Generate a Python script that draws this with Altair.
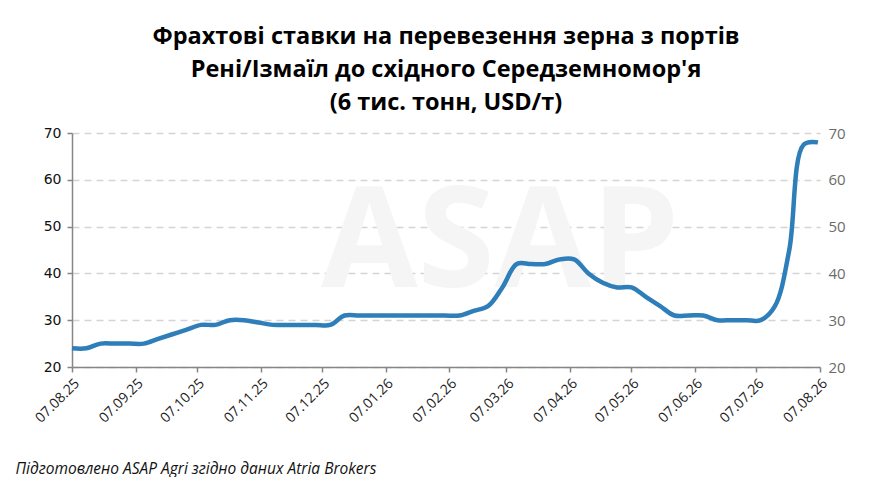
import altair as alt
import pandas as pd

# weekly observations, USD/t
start_date = "2025-08-07"
n_weeks = 53
rates = [24, 24, 25, 25, 25, 25, 26, 27, 28, 29,
         29, 30, 30, 29.5, 29, 29, 29, 29, 29, 31,
         31, 31, 31, 31, 31, 31, 31, 31, 32, 33,
         37, 42, 42, 42, 43, 43, 40, 38, 37, 37,
         35, 33, 31, 31, 31, 30, 30, 30, 30, 33,
         45, 67.5, 68]
tick_dates = ["2025-08-07", "2025-09-07", "2025-10-07", "2025-11-07", "2025-12-07",
              "2026-01-07", "2026-02-07", "2026-03-07", "2026-04-07", "2026-05-07",
              "2026-06-07", "2026-07-07", "2026-08-07"]
title_lines = ["Фрахтові ставки на перевезення зерна з портів",
               "Рені/Ізмаїл до східного Середземномор'я",
               "(6 тис. тонн, USD/т)"]
footer = "Підготовлено ASAP Agri згідно даних Atria Brokers"

dates = pd.date_range(start_date, periods=n_weeks, freq="7D").strftime("%Y-%m-%d")
df = pd.DataFrame({"date": dates, "rate": rates})


def ms(d):
    return int(pd.Timestamp(d, tz="UTC").value // 10**6)


tick_ms = [ms(d) for d in tick_dates]

x_enc = alt.X(
    "date:T",
    scale=alt.Scale(type="utc", domain=[tick_ms[0], tick_ms[-1]]),
    axis=alt.Axis(
        values=tick_ms, labelExpr="utcFormat(datum.value, '%d.%m.%y')",
        labelAngle=-45,
        labelFont="Open Sans", labelFontSize=14, labelColor="#222222",
        labelPadding=4, domainColor="#868686", domainWidth=1.5,
        tickColor="#868686", tickWidth=1.5, tickSize=5, grid=False,
        title=footer, titleFont="Open Sans", titleFontSize=15.5,
        titleFontStyle="italic", titleFontWeight="normal", titleColor="#111111",
        titleAlign="left", titleBaseline="alphabetic", titleX=-57, titleY=106,
        labelOverlap=False,
    ),
)

y_scale = alt.Scale(domain=[20, 70])

line = alt.Chart(df).mark_line(
    interpolate="catmull-rom", color="#2E7EBA", strokeWidth=4.5
).encode(
    x=x_enc,
    y=alt.Y("rate:Q", scale=y_scale, axis=alt.Axis(
        values=[20, 30, 40, 50, 60, 70], orient="left", title=None,
        labelFont="DejaVu Sans", labelFontSize=14, labelColor="#111111",
        labelPadding=6, domainColor="#868686", domainWidth=1.5,
        tickColor="#868686", tickWidth=1.5, tickSize=5,
        grid=True, gridColor="#D4D4D4", gridDash=[7, 5], gridWidth=1.5,
    )),
)

right = alt.Chart(df).mark_line(opacity=0).encode(
    x=x_enc,
    y=alt.Y("rate:Q", scale=y_scale, axis=alt.Axis(
        values=[20, 30, 40, 50, 60, 70], orient="right", title=None,
        labelFont="Open Sans", labelFontSize=15, labelColor="#6B6B6B",
        labelPadding=8, domain=False, ticks=False, grid=False,
    )),
)

wm = alt.Chart(pd.DataFrame({"t": ["ASAP"]})).mark_text(
    font="Open Sans", fontWeight="bold", fontSize=140, color="#F5F5F5",
    align="center", baseline="alphabetic",
).encode(text="t:N", x=alt.value(428), y=alt.value(154))

chart = alt.layer(wm, line, right).resolve_scale(y="independent").properties(
    width=748, height=234,
    autosize=alt.AutoSizeParams(type="none"),
    padding={"left": 64, "top": 125, "right": 50, "bottom": 110},
    title=alt.TitleParams(
        text=title_lines, font="Open Sans", fontSize=23.5, fontWeight="bold",
        color="#000000", lineHeight=33, anchor="middle", offset=12,
    ),
).configure_view(stroke=None)

chart.save("out.html", embed_options={"renderer": "svg", "actions": False})
